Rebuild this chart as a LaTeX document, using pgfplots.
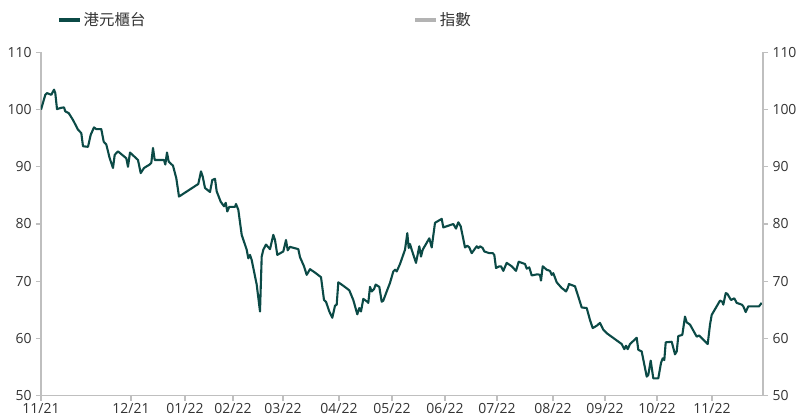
\documentclass[border=0pt]{standalone}
\usepackage{pgfplots}
\pgfplotsset{compat=1.18}
\usepackage{fontspec}
\setmainfont{Open Sans}
\newfontfamily\cjk{Noto Sans CJK TC}

\definecolor{hkd}{HTML}{0B4A46}
\definecolor{idx}{HTML}{B3B3B3}
\definecolor{axisgray}{HTML}{BFBFBF}
\definecolor{labelgray}{HTML}{333333}

\pgfplotsset{
  base/.style={
    scale only axis,
    width=722bp, height=343bp,
    xmin=0, xmax=722,
    ymin=50, ymax=110, ytick={50,60,...,110},
    axis line style={draw=axisgray, line width=1.3bp},
    tick style={draw=axisgray, line width=1.3bp},
    major tick length=5bp,
    tick align=outside,
    ticklabel style={font=\fontsize{14}{16}\selectfont, text=labelgray},
    /pgf/number format/assume math mode=true,
  },
}

\begin{document}
\begin{tikzpicture}
\begin{axis}[
    base,
    axis x line*=bottom, axis y line*=left,
    xtick={0,90,144,192,242,298,351,404,456,512,564,616,671},
    xticklabels={11/21,12/21,01/22,02/22,03/22,04/22,05/22,06/22,07/22,08/22,09/22,10/22,11/22},
    xticklabel style={yshift=1bp},
    yticklabel style={xshift=-1bp},
    legend columns=2,
    legend style={at={(axis description cs:0,1)}, anchor=west,
        xshift=16bp, yshift=32.5bp, draw=none, fill=none,
        inner sep=0pt, font=\cjk\fontsize{15.5}{17}\selectfont, text=labelgray,
        /tikz/every even column/.append style={column sep=266bp}},
    legend image code/.code={\draw[#1, line width=3.5bp] (0bp,0bp) -- (21bp,0bp);},
]
\coordinate (sw) at (rel axis cs:0,0);
\coordinate (ne) at (rel axis cs:1,1);

% 港元櫃台
\addplot[hkd, line width=2.1bp, line join=round] coordinates {
 (0,100.0) (4.3,102.6) (6,102.9) (10.3,102.6) (13,103.5) (14.3,102.9) (16,100.1)
 (19.7,100.3) (23,100.4) (24.3,99.7) (27.7,99.4) (32,98.2) (37,96.5) (40.3,95.9)
 (42,93.6) (47,93.5) (49.7,95.6) (53,96.9) (55.3,96.6) (60.3,96.6) (62.7,94.4)
 (65.3,93.9) (68.7,91.5) (72,89.8) (73.7,92.1) (77,92.7) (85.3,91.5) (87,90.0)
 (89,92.5) (97,91.2) (99.7,88.9) (103,89.8) (108.7,90.4) (110.3,90.7) (112,93.3)
 (113.7,91.2) (123,91.2) (124.3,90.4) (126,92.5) (127.7,90.9) (132,90.2) (135.3,88.0)
 (138,84.8) (157.3,87.0) (160,89.2) (161.7,88.3) (164,86.3) (169,85.6) (171.3,87.7)
 (174,87.9) (175.7,85.7) (179.7,83.9) (183,83.1) (184.7,83.7) (186.3,82.2) (188.3,83.0)
 (194,83.0) (195,83.5) (197.3,82.5) (200.7,78.1) (205.7,75.5) (207.3,74.0) (209,74.6)
 (210.7,73.7) (215.7,69.4) (219,64.7) (220.7,74.3) (222.3,75.5) (225,76.4) (229,75.6)
 (232.3,78.1) (234,77.2) (236.3,74.6) (242.3,75.2) (245,77.2) (246.7,75.4) (249,76.0)
 (257.3,75.6) (259,74.2) (263,72.6) (265.7,71.1) (269,72.1) (274,71.5) (280,70.7)
 (283,66.7) (285,66.4) (288.3,64.7) (291.3,63.6) (294,65.7) (295.7,65.9) (297.3,69.8)
 (302.3,69.2) (308.3,68.4) (312.3,66.7) (316.3,64.2) (318.3,65.3) (320,64.7) (322.3,66.9)
 (326.3,66.4) (327.3,66.2) (329,69.0) (330.7,68.2) (333,68.6) (334.7,69.4) (338.3,69.0)
 (340.7,66.4) (342.3,66.6) (345.7,68.2) (349,69.7) (352.3,71.7) (354,72.0) (355.7,71.7)
 (359,73.0) (364,75.5) (366.3,78.4) (367.7,75.8) (369,76.5) (370.7,75.5) (375,73.2)
 (378.3,76.1) (380,74.3) (381.7,75.5) (388.3,77.5) (390.7,75.9) (394,80.2) (400.7,80.9)
 (402.3,79.4) (412.3,80.0) (415,79.2) (417.3,80.3) (419.7,79.6) (424,75.9) (426.3,76.2)
 (428.3,75.9) (430.7,74.9) (435.7,76.1) (437.3,75.8) (439,76.1) (441.7,75.8) (443.3,75.2)
 (448.3,74.9) (451.7,74.9) (453.3,74.6) (455,72.3) (458.3,72.6) (460,72.6) (462.3,71.8)
 (465.7,73.2) (470.7,72.6) (475,71.8) (477.7,73.4) (484,73.0) (485.7,72.2) (488.3,72.4)
 (490.7,71.0) (496.3,71.2) (499,71.1) (500,70.1) (501.7,72.6) (505.7,72.0) (509,71.8)
 (510.7,71.1) (512.3,71.4) (515.7,69.8) (520.7,68.8) (523,68.5) (525,68.2) (526.7,68.8)
 (528,69.5) (534,69.1) (537.3,67.3) (540.7,65.4) (545.7,65.3) (549,63.2) (551.7,61.8)
 (555.7,62.2) (559,62.7) (562.3,61.5) (565.7,60.9) (580.7,59.0) (583.3,58.1) (585,58.7)
 (586.7,58.1) (589,59.0) (595.7,60.1) (597.3,58.0) (600.7,57.7) (605.7,53.3) (607.3,53.6)
 (609.7,56.1) (612.3,53.0) (617.3,53.0) (620,55.7) (621.7,56.5) (623.3,56.2) (624.7,59.3)
 (630.7,59.4) (634,57.2) (635.7,57.7) (637.3,60.4) (641.3,60.6) (644,63.8) (645.7,62.8)
 (649,62.4) (655.7,60.3) (658,60.5) (666.7,59.0) (669,62.4) (670.7,64.1) (675.7,65.6)
 (679,66.6) (681.3,66.4) (682.3,65.9) (684.7,67.9) (686.3,67.8) (690,66.7) (693.3,67.0)
 (695.7,66.2) (700.7,65.9) (702.3,65.6) (704.7,64.6) (707.3,65.6) (718,65.6) (720.7,66.2)
};
\addlegendentry{港元櫃台}
\addlegendimage{idx}
\addlegendentry{指數}
\end{axis}

\begin{axis}[
    base,
    axis x line=none, axis y line*=right,
    yticklabel style={xshift=1bp},
]
\addplot[draw=none] coordinates {(0,50)};
\end{axis}

\pgfresetboundingbox
\path (sw) ++(-41bp,-22.3bp) rectangle ([shift={(34bp,52.5bp)}]ne);
\end{tikzpicture}
\end{document}
